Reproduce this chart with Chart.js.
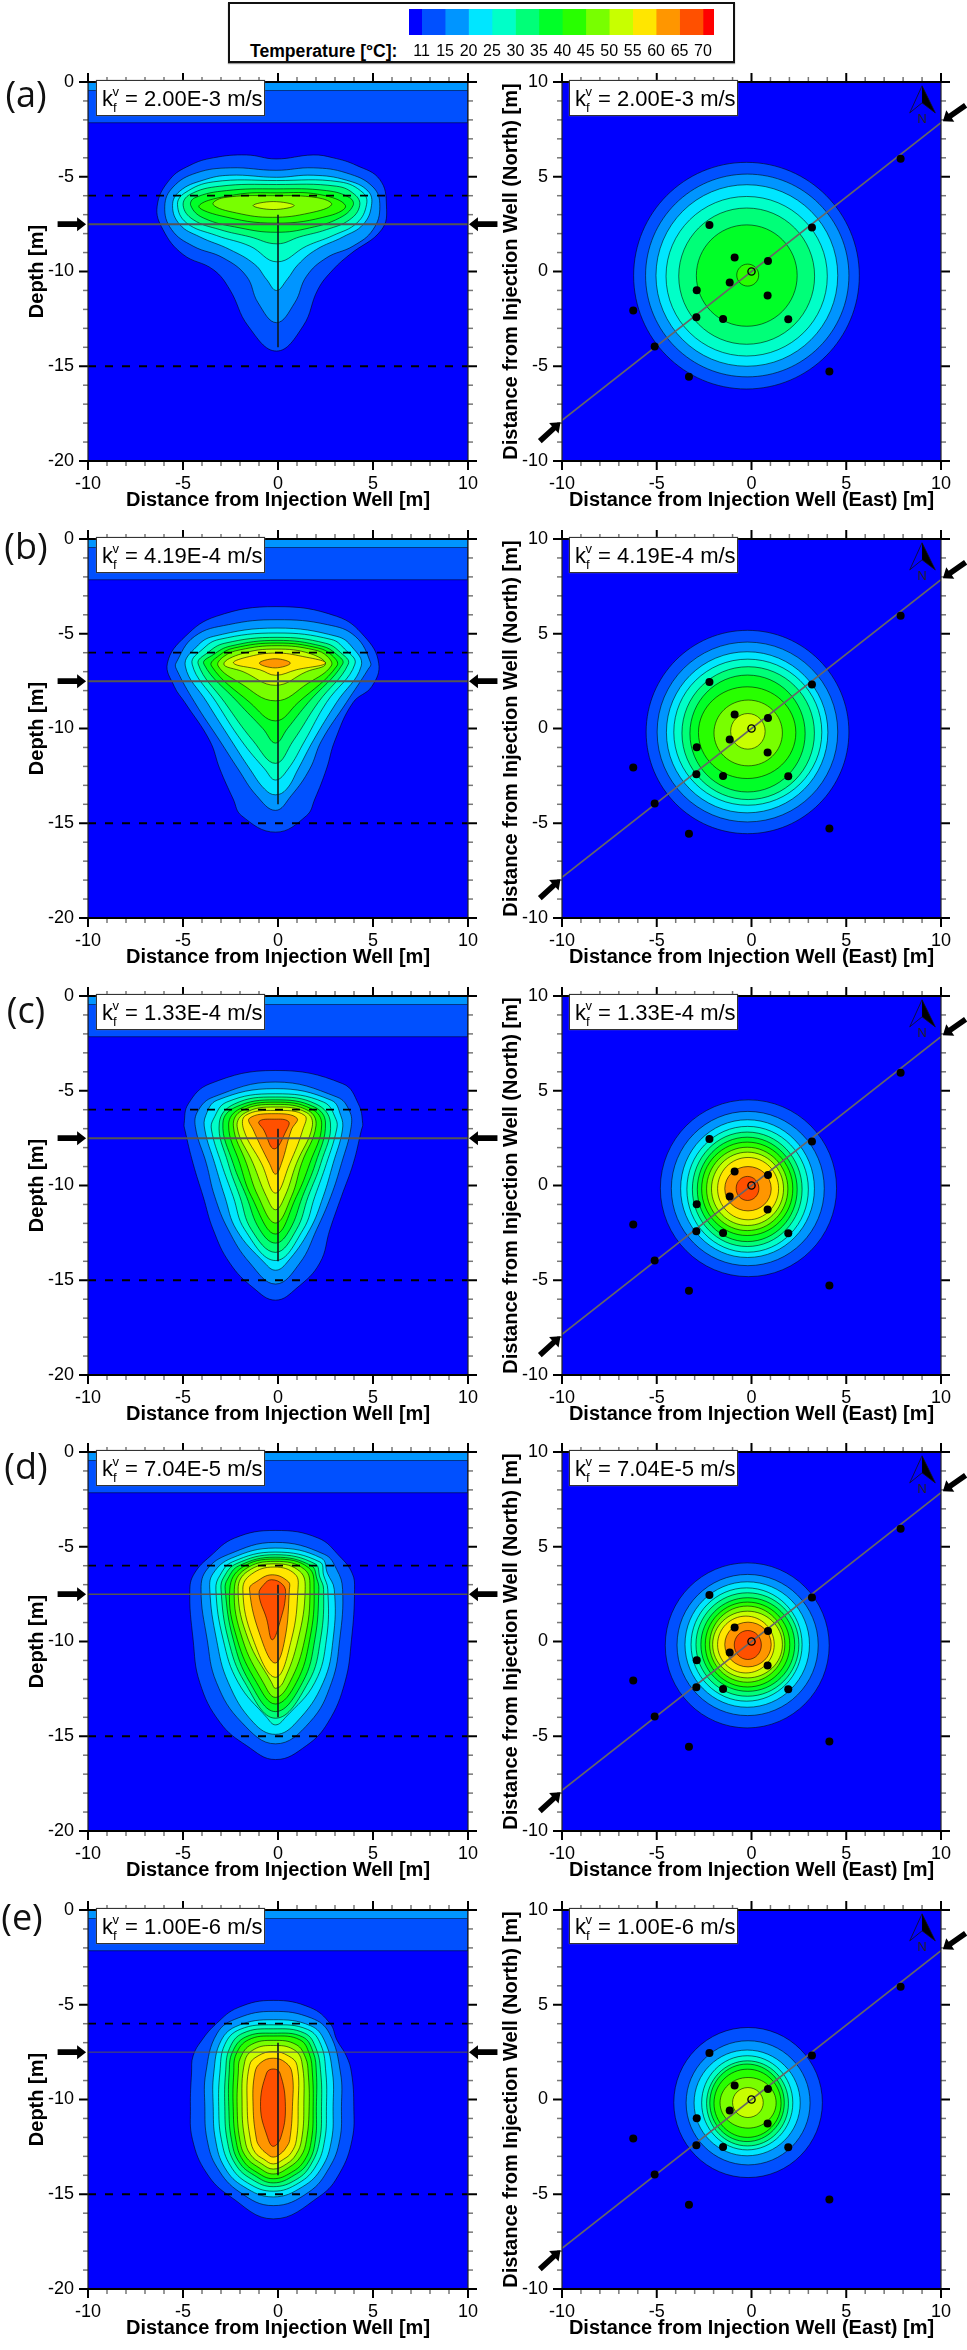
<!DOCTYPE html>
<html><head><meta charset="utf-8">
<script src="https://cdn.jsdelivr.net/npm/chart.js@4"></script>
<style>
html,body{margin:0;padding:0;background:#fff;width:967px;height:2350px;overflow:hidden;font-family:"Liberation Sans",Arial,sans-serif}
canvas{position:absolute}
.box{position:absolute;background:#fff;border:1px solid #333;box-sizing:border-box;width:169px;height:36px;color:#000;font-size:22px;box-shadow:0 0 1px #777}
.box span{position:absolute;line-height:1}
.let{position:absolute;font-family:"Open Sans",sans-serif;font-size:36px;line-height:1;color:#111;transform:translate(-50%,-50%)}
#lg{position:absolute;left:228px;top:2px;width:507px;height:61px;box-sizing:border-box;border:2px solid #111;background:#fff;box-shadow:0 1px 1px #999}
#lgt{position:absolute;left:250px;top:42px;font:bold 17.6px/18px "Liberation Sans",Arial,sans-serif;color:#000;white-space:nowrap}
</style></head><body>
<div id="lg"></div><div id="lgt">Temperature [°C]:</div>
<script>
// ---- legend ----
const legendLabels=['11','15','20','25','30','35','40','45','50','55','60','65','70'];
const legendColors=['#0000ff','#0050ff','#0095ff','#00e6ff','#00ffc8','#00ff78','#00ff28','#28ff00','#78ff00','#c8ff00','#ffe600','#ff9600','#ff5000','#ff0000'];
// contour fills, from the lowest level upward
const levelColors=legendColors.slice(1);
const panelLetters=['(a)','(b)','(c)','(d)','(e)'];
const kValues=['2.00E-3','4.19E-4','1.33E-4','7.04E-5','1.00E-6'];

// ---- x/y ----
const wellEast=[-2.22,3.19,-0.89,0.87,-1.15,-2.89,0.85,-2.91,-1.5,1.94,-6.24,-5.11,-3.3,4.11,7.87];
const wellNorth=[2.45,2.32,0.74,0.56,-0.58,-0.99,-1.27,-2.41,-2.5,-2.52,-2.06,-3.96,-5.55,-5.28,5.95];
const transectEnds=[[-10,-7.85],[10,7.85]];
const screenDepths=[-6,-15];
const injectionDepths=[-7,-14];
const sectionDepth=-7.5;
const sectionWidths=[2,2,2,1.5,1];
const bandDepths=[-2.15,-0.45];

// vertical-section contours: rows of [depth, xLeft, xRight]; first and last rows are [depth, x]
const sectionA=[
[[-4.06,-0.1],[-3.85,-1.66,1.85],[-4.0,-3.4,2.9],[-4.4,-4.64,4.13],[-5.15,-5.7,5.36],[-6.55,-6.36,5.71],[-7.8,-6.05,5.45],[-9.1,-5.0,3.78],[-9.9,-3.41,2.9],[-10.95,-2.54,2.1],[-12.88,-1.57,1.32],[-14.2,-0.08]],
[[-4.66,-0.1],[-4.53,-2.5,1.85],[-4.8,-4.3,3.6],[-5.54,-5.52,5.0],[-6.56,-5.96,5.36],[-7.79,-5.6,5.0],[-8.66,-4.47,3.95],[-9.28,-2.89,2.55],[-10.25,-1.66,1.5],[-11.65,-1.05,0.88],[-12.7,-0.08]],
[[-5.03,-0.08],[-4.92,-2.54,1.85],[-5.18,-3.94,3.6],[-5.76,-5.17,4.74],[-6.52,-5.55,4.92],[-7.52,-5.17,4.48],[-8.17,-4.12,3.43],[-8.84,-2.54,2.02],[-9.63,-1.22,1.06],[-10.42,-0.6,0.48],[-11.0,-0.08]],
[[-5.2,-0.08],[-5.27,-3.41,3.25],[-5.85,-4.9,4.48],[-6.47,-5.29,4.66],[-7.43,-4.82,4.16],[-8.1,-3.24,2.9],[-8.66,-1.48,1.5],[-9.49,-0.05]],
[[-5.41,-0.08],[-5.5,-3.06,3.08],[-5.94,-4.64,4.04],[-6.52,-4.99,4.3],[-7.26,-4.47,3.78],[-7.79,-3.06,2.55],[-8.17,-1.48,1.15],[-8.54,-0.05]],
[[-5.64,-0.1],[-5.73,-2.71,2.55],[-6.11,-4.38,3.78],[-6.52,-4.59,3.95],[-7.17,-3.94,3.25],[-7.7,-2.0,1.67],[-7.93,-0.1]],
[[-5.85,-0.1],[-5.94,-2.19,2.2],[-6.52,-4.15,3.55],[-7.05,-3.06,2.73],[-7.45,-0.1]],
[[-6.0,-0.3],[-6.11,-2.89,2.1],[-6.47,-3.41,2.82],[-6.91,-2.19,1.67],[-7.14,-0.3]],
[[-6.31,-0.25],[-6.52,-1.31,0.85],[-6.73,-0.25]]
];
const sectionB=[
[[-3.57,-0.1],[-4.08,-3.25,3.09],[-5.14,-4.88,4.55],[-6.55,-5.82,5.3],[-7.78,-5.46,4.94],[-8.63,-4.9,3.95],[-10.65,-3.59,2.99],[-12.14,-3.06,2.55],[-13.72,-2.36,1.94],[-14.6,-1.92,1.5],[-15.47,-0.13]],
[[-4.26,-0.05],[-4.52,-2.6,2.6],[-5.14,-4.39,4.07],[-6.55,-5.37,4.88],[-6.88,-5.34,4.74],[-8.63,-4.38,3.6],[-10.65,-3.06,2.29],[-12.14,-2.1,1.67],[-13.54,-1.13,0.7],[-14.32,-0.13]],
[[-4.7,-0.05],[-5.14,-3.4,3.1],[-5.7,-4.3,3.9],[-6.7,-4.88,4.38],[-8.63,-3.73,3.08],[-10.65,-2.45,1.85],[-12.14,-1.48,1.06],[-13.2,-0.7,0.45],[-13.5,-0.13]],
[[-4.96,-0.05],[-5.3,-3.1,2.8],[-5.8,-3.95,3.5],[-6.6,-4.52,4.05],[-8.63,-3.24,2.55],[-10.65,-1.92,1.41],[-12.14,-0.7,0.53],[-12.72,-0.13]],
[[-5.19,-0.05],[-5.5,-2.8,2.5],[-6.0,-3.7,3.3],[-6.6,-4.2,3.7],[-8.63,-2.8,2.11],[-10.65,-1.31,0.8],[-11.84,-0.13]],
[[-5.35,-0.05],[-5.65,-2.5,2.3],[-6.1,-3.4,3.1],[-6.6,-3.9,3.4],[-8.63,-2.1,1.59],[-10.0,-0.8,0.5],[-10.77,-0.13]],
[[-5.49,-0.05],[-5.75,-2.3,2.1],[-6.15,-3.1,2.85],[-6.7,-3.5,3.1],[-8.63,-1.48,1.06],[-9.6,-0.13]],
[[-5.63,-0.05],[-5.85,-2.0,1.9],[-6.2,-2.85,2.6],[-6.7,-3.15,2.8],[-7.6,-2.0,1.6],[-8.54,-0.13]],
[[-5.81,-0.1],[-6.05,-1.9,1.7],[-6.6,-2.85,2.5],[-7.0,-1.84,1.5],[-7.72,-0.13]],
[[-6.02,-0.1],[-6.2,-1.5,1.3],[-6.55,-2.34,2.5],[-6.9,-0.96,0.97],[-7.19,-0.13]],
[[-6.32,-0.15],[-6.55,-0.98,0.65],[-6.8,-0.15]]
];
const sectionC=[
[[-3.93,-0.15],[-4.63,-3.58,3.41],[-5.69,-4.72,4.23],[-6.74,-4.94,4.46],[-7.07,-4.9,4.39],[-8.84,-4.47,3.96],[-10.58,-3.94,3.34],[-12.33,-3.41,2.73],[-14.09,-2.54,2.2],[-15.4,-1.3,1.0],[-16.05,-0.13]],
[[-4.54,-0.15],[-5.33,-3.4,3.1],[-6.04,-4.2,3.75],[-6.9,-4.35,3.85],[-8.84,-3.77,3.34],[-10.58,-3.33,2.78],[-12.33,-2.62,2.03],[-14.09,-1.48,1.15],[-15.2,-0.13]],
[[-4.89,-0.15],[-5.5,-3.2,2.8],[-6.3,-3.8,3.3],[-7.07,-3.85,3.39],[-8.84,-3.33,2.9],[-10.58,-2.8,2.38],[-12.33,-2.19,1.67],[-14.09,-0.7,0.45],[-14.47,-0.13]],
[[-5.16,-0.15],[-5.6,-2.7,2.4],[-6.5,-3.4,3.05],[-7.07,-3.5,3.08],[-8.84,-2.98,2.55],[-10.58,-2.36,1.94],[-12.33,-1.75,1.32],[-13.96,-0.13]],
[[-5.33,-0.15],[-5.7,-2.3,2.0],[-6.7,-3.09,2.76],[-8.84,-2.62,2.25],[-10.58,-2.01,1.59],[-12.33,-1.4,0.97],[-13.53,-0.13]],
[[-5.48,-0.15],[-5.85,-2.2,1.9],[-6.7,-2.9,2.5],[-8.84,-2.36,1.97],[-10.58,-1.66,1.29],[-12.33,-0.96,0.62],[-13.04,-0.13]],
[[-5.6,-0.15],[-5.95,-2.0,1.75],[-6.8,-2.6,2.3],[-8.84,-2.01,1.67],[-10.58,-1.4,0.97],[-12.56,-0.13]],
[[-5.72,-0.15],[-6.05,-1.9,1.6],[-6.85,-2.35,2.0],[-8.84,-1.66,1.24],[-10.58,-1.04,0.71],[-11.98,-0.13]],
[[-5.86,-0.15],[-6.15,-1.7,1.5],[-6.9,-2.15,1.8],[-8.84,-1.31,0.97],[-10.58,-0.61,0.36],[-11.28,-0.13]],
[[-6.04,-0.15],[-6.3,-1.7,1.4],[-7.07,-1.8,1.3],[-8.84,-0.87,0.62],[-10.4,-0.13]],
[[-6.21,-0.15],[-6.45,-1.5,1.0],[-7.07,-1.3,0.7],[-8.84,-0.45,0.18],[-9.4,-0.13]],
[[-6.5,-0.2],[-6.62,-1.0,0.55],[-7.07,-0.75,0.45],[-8.07,-0.2]]
];
const sectionD=[
[[-4.14,-0.15],[-4.54,-2.28,2.11],[-5.51,-3.58,3.25],[-6.39,-4.39,3.9],[-7.25,-4.64,4.03],[-9.88,-4.47,3.87],[-12.16,-4.12,3.52],[-14.26,-3.06,2.64],[-15.49,-1.66,1.5],[-16.23,-0.13]],
[[-4.77,-0.15],[-5.4,-2.6,2.44],[-6.2,-3.74,3.09],[-7.25,-4.05,3.4],[-9.88,-3.73,3.25],[-12.16,-3.24,2.82],[-14.26,-1.92,1.67],[-15.4,-0.13]],
[[-5.07,-0.15],[-5.6,-2.44,2.28],[-6.4,-3.41,2.6],[-7.25,-3.59,2.96],[-9.88,-3.24,2.9],[-12.16,-2.62,2.38],[-14.26,-1.31,0.97],[-14.9,-0.13]],
[[-5.28,-0.15],[-5.8,-2.4,2.2],[-6.5,-3.05,2.4],[-7.25,-3.27,2.62],[-9.88,-2.89,2.55],[-12.16,-2.1,1.94],[-14.0,-0.6,0.4],[-14.4,-0.13]],
[[-5.42,-0.15],[-5.9,-2.2,1.95],[-6.6,-2.85,2.2],[-7.25,-3.0,2.4],[-9.88,-2.62,2.24],[-12.16,-1.75,1.59],[-14.05,-0.13]],
[[-5.55,-0.15],[-6.0,-2.05,1.75],[-6.7,-2.65,2.05],[-7.25,-2.78,2.15],[-9.88,-2.36,1.94],[-12.16,-1.48,1.29],[-13.7,-0.13]],
[[-5.65,-0.15],[-6.1,-1.9,1.6],[-7.25,-2.54,1.9],[-9.88,-2.15,1.67],[-12.16,-1.13,0.97],[-13.3,-0.13]],
[[-5.77,-0.15],[-6.2,-1.75,1.4],[-7.25,-2.3,1.68],[-9.88,-1.87,1.41],[-12.16,-0.78,0.62],[-12.95,-0.13]],
[[-5.9,-0.15],[-6.3,-1.6,1.15],[-7.25,-2.1,1.43],[-9.88,-1.57,1.06],[-12.16,-0.34,0.27],[-12.47,-0.13]],
[[-6.07,-0.2],[-6.45,-1.4,0.9],[-7.25,-1.85,1.05],[-9.88,-1.31,0.71],[-11.89,-0.13]],
[[-6.48,-0.3],[-6.85,-1.15,0.55],[-7.25,-1.5,0.6],[-9.88,-0.87,0.36],[-11.14,-0.15]],
[[-6.74,-0.35],[-7.0,-0.75,0.25],[-7.5,-1.0,0.4],[-8.8,-0.6,0.15],[-9.91,-0.3]]
];
const sectionE=[
[[-4.77,-0.25],[-5.15,-2.1,1.7],[-6.0,-3.25,2.75],[-6.86,-4.0,3.1],[-7.7,-4.47,3.6],[-8.6,-4.55,3.87],[-10.37,-4.61,3.99],[-12.12,-4.5,3.9],[-13.88,-3.76,3.25],[-15.1,-2.54,2.2],[-16.3,-0.25]],
[[-5.35,-0.25],[-5.7,-2.1,1.75],[-6.5,-3.2,2.7],[-8.6,-3.8,3.29],[-10.37,-3.85,3.34],[-12.12,-3.73,3.25],[-13.6,-3.2,2.7],[-14.9,-2.0,1.6],[-15.6,-0.25]],
[[-5.79,-0.25],[-6.1,-2.1,1.7],[-6.9,-3.0,2.45],[-8.6,-3.38,2.87],[-10.37,-3.41,2.9],[-12.12,-3.29,2.82],[-13.6,-2.8,2.3],[-14.6,-1.8,1.3],[-15.14,-0.25]],
[[-6.06,-0.25],[-6.3,-2.0,1.55],[-7.1,-2.8,2.25],[-8.6,-3.06,2.52],[-10.37,-3.12,2.55],[-12.12,-2.98,2.46],[-13.5,-2.5,2.0],[-14.4,-1.6,1.1],[-14.84,-0.25]],
[[-6.27,-0.25],[-6.5,-1.85,1.4],[-7.3,-2.55,2.0],[-8.6,-2.76,2.25],[-10.37,-2.8,2.29],[-12.12,-2.68,2.2],[-13.4,-2.25,1.75],[-14.2,-1.4,1.0],[-14.6,-0.25]],
[[-6.5,-0.25],[-6.7,-1.7,1.3],[-7.5,-2.4,1.85],[-8.6,-2.57,2.02],[-10.37,-2.59,2.02],[-12.12,-2.45,1.97],[-13.3,-2.05,1.6],[-14.0,-1.25,0.85],[-14.4,-0.25]],
[[-6.65,-0.25],[-6.85,-1.55,1.15],[-7.6,-2.2,1.65],[-8.6,-2.33,1.81],[-10.37,-2.36,1.85],[-12.12,-2.22,1.76],[-13.2,-1.85,1.4],[-13.85,-1.1,0.7],[-14.18,-0.25]],
[[-6.88,-0.25],[-7.1,-1.4,0.95],[-7.8,-1.98,1.45],[-8.6,-2.09,1.59],[-10.37,-2.15,1.64],[-12.12,-2.01,1.5],[-13.0,-1.7,1.2],[-13.6,-1.0,0.55],[-13.93,-0.25]],
[[-7.15,-0.25],[-7.35,-1.25,0.8],[-8.0,-1.75,1.25],[-10.37,-1.89,1.36],[-12.12,-1.74,1.24],[-12.9,-1.45,0.95],[-13.4,-0.85,0.45],[-13.67,-0.25]],
[[-7.47,-0.25],[-7.7,-1.05,0.55],[-8.2,-1.5,1.0],[-10.37,-1.62,1.06],[-12.12,-1.45,0.97],[-12.8,-1.2,0.7],[-13.15,-0.75,0.3],[-13.4,-0.25]],
[[-7.82,-0.25],[-8.05,-0.9,0.4],[-8.6,-1.22,0.74],[-10.37,-1.31,0.76],[-12.12,-1.13,0.62],[-12.5,-0.95,0.45],[-12.85,-0.6,0.15],[-13.04,-0.25]],
[[-8.39,-0.25],[-8.6,-0.6,0.1],[-10.37,-0.92,0.39],[-12.0,-0.55,0.15],[-12.47,-0.25]]
];
// plan-view contours: [west, east, north, south] extents
const planA=[[-6.22,5.69,5.76,-6.2],[-5.59,5.14,5.14,-5.56],[-5.04,4.55,4.58,-5.0],[-4.51,4.0,3.96,-4.46],[-3.84,3.33,3.35,-3.84],[-2.91,2.41,2.46,-2.89],[-0.78,0.38,0.39,-0.77]];
const planB=[[-5.56,5.14,5.18,-5.55],[-4.98,4.55,4.56,-4.93],[-4.49,4.03,4.05,-4.45],[-4.1,3.71,3.66,-4.05],[-3.67,3.32,3.26,-3.75],[-3.25,2.83,2.82,-3.35],[-2.8,2.34,2.2,-2.64],[-1.98,1.63,1.5,-1.97],[-1.1,0.72,0.79,-1.09]];
const planC=[[-4.81,4.49,4.52,-4.81],[-4.23,3.84,3.91,-4.23],[-3.74,3.32,3.47,-3.8],[-3.41,3.0,3.12,-3.52],[-3.12,2.67,2.82,-3.22],[-2.86,2.41,2.55,-2.96],[-2.63,2.18,2.29,-2.64],[-2.37,1.92,2.02,-2.38],[-2.11,1.69,1.76,-2.11],[-1.79,1.43,1.48,-1.81],[-1.41,1.04,1.0,-1.34],[-0.81,0.39,0.48,-0.79]];
const planD=[[-4.55,4.1,4.15,-4.56],[-3.93,3.52,3.54,-3.91],[-3.51,3.06,3.15,-3.47],[-3.19,2.67,2.83,-3.15],[-2.93,2.5,2.57,-2.89],[-2.67,2.28,2.31,-2.63],[-2.44,2.02,2.08,-2.4],[-2.21,1.76,1.87,-2.15],[-2.05,1.63,1.6,-1.92],[-1.79,1.2,1.34,-1.66],[-1.41,1.04,1.02,-1.34],[-0.91,0.52,0.58,-0.95]];
const planE=[[-4.1,3.74,3.8,-4.12],[-3.45,3.09,3.1,-3.45],[-3.03,2.57,2.61,-2.97],[-2.63,2.18,2.31,-2.66],[-2.37,1.95,2.04,-2.45],[-2.2,1.73,1.87,-2.22],[-1.98,1.56,1.6,-2.0],[-1.66,1.3,1.16,-1.51],[-1.0,0.62,0.63,-0.95]];
const sections=[sectionA,sectionB,sectionC,sectionD,sectionE];
const plans=[planA,planB,planC,planD,planE];

// ---- page layout ----
const FONT='"Liberation Sans",Arial,sans-serif';
const panelTops=[82,539,996,1452,1910];
const letterCentres=[[26,94],[26,546],[26,1010],[26,1466],[22,1917]];
const PAD_TOP=20,PLOT_H=379,AXIS_H=53;

// closed rings carry one point of overlap at each end so the spline tangents wrap round
function sectionRing(rows){
  const pts=[];
  rows.forEach(r=>pts.push({x:r.length===2?r[1]:r[2],y:r[0]}));
  for(let i=rows.length-2;i>0;i--)pts.push({x:rows[i][1],y:rows[i][0]});
  return [pts[pts.length-1],...pts,pts[0],pts[1]];
}
function planRing(e){
  const cx=(e[0]+e[1])/2,cy=(e[2]+e[3])/2;
  const p=[{x:cx,y:e[2]},{x:e[1],y:cy},{x:cx,y:e[3]},{x:e[0],y:cy}];
  return [p[3],...p,p[0],p[1]];
}
const polyFill={id:'polyFill',beforeDatasetDraw(chart,args){
  const ds=chart.data.datasets[args.index];
  if(!ds.polyColor)return;
  const ctx=chart.ctx,a=chart.chartArea,line=chart.getDatasetMeta(args.index).dataset;
  line.updateControlPoints(a,'x');
  ctx.save();
  ctx.beginPath();ctx.rect(a.left,a.top,a.right-a.left,a.bottom-a.top);ctx.clip();
  ctx.beginPath();
  if(ds.ring)line.path(ctx,1,ds.data.length-2);else line.path(ctx);
  ctx.closePath();
  ctx.fillStyle=ds.polyColor;ctx.fill();
  if(ds.ringWidth){ctx.strokeStyle=ds.ringColor;ctx.lineWidth=ds.ringWidth;ctx.stroke();}
  ctx.restore();
}};
const plotBack={id:'plotBack',beforeDraw(chart){
  const a=chart.chartArea,c=chart.ctx;
  c.save();c.fillStyle=legendColors[0];c.fillRect(a.left,a.top,a.right-a.left,a.bottom-a.top);c.restore();
}};
function arrow(c,xs,ys,tail,tip){
  const x0=xs.getPixelForValue(tail[0]),y0=ys.getPixelForValue(tail[1]),x1=xs.getPixelForValue(tip[0]),y1=ys.getPixelForValue(tip[1]);
  const L=Math.hypot(x1-x0,y1-y0),ux=(x1-x0)/L,uy=(y1-y0)/L,nx=-uy,ny=ux,hl=9,hw=7,sw=2.8;
  const P=(a,b)=>[x0+ux*a+nx*b,y0+uy*a+ny*b];
  const path=[P(0,sw),P(L-hl,sw),P(L-hl,hw),P(L,0),P(L-hl,-hw),P(L-hl,-sw),P(0,-sw)];
  c.beginPath();path.forEach((p,i)=>i?c.lineTo(p[0],p[1]):c.moveTo(p[0],p[1]));c.closePath();c.fillStyle='#000';c.fill();
}
const frame={id:'frame',afterDraw(chart,args,o){
  const c=chart.ctx,a=chart.chartArea,xs=chart.scales.x,ys=chart.scales.y;
  c.save();
  const tick=(x0,y0,x1,y1,maj)=>{c.strokeStyle=maj?'#000':'#777';c.lineWidth=maj?2:1.5;c.beginPath();c.moveTo(x0,y0);c.lineTo(x1,y1);c.stroke();};
  xs.ticks.forEach(t=>{const p=xs.getPixelForValue(t.value),maj=t.value%5===0,l=maj?9:5;
    tick(p,a.top,p,a.top-l,maj);tick(p,a.bottom,p,a.bottom+l,maj);});
  ys.ticks.forEach(t=>{const p=ys.getPixelForValue(t.value),maj=t.value%5===0,l=maj?9:5;
    tick(a.left,p,a.left-l,p,maj);tick(a.right,p,a.right+l,p,maj);});
  c.strokeStyle='#222';c.lineWidth=1.2;c.strokeRect(a.left,a.top,a.right-a.left,a.bottom-a.top);
  c.strokeStyle='#000';c.lineWidth=2.2;
  c.beginPath();c.moveTo(a.left-9,a.top);c.lineTo(a.right+9,a.top);c.moveTo(a.left-9,a.bottom);c.lineTo(a.right+9,a.bottom);c.stroke();
  (o.arrows||[]).forEach(r=>arrow(c,xs,ys,r[0],r[1]));
  if(o.north){
    c.fillStyle='#222';c.font='13px '+FONT;c.textAlign='center';c.textBaseline='middle';
    c.fillText('N',xs.getPixelForValue(o.north[0]),ys.getPixelForValue(o.north[1]));
  }
  c.restore();
}};
function polyDatasets(rings,startOrder,tension){
  return rings.map((pts,i)=>({data:pts,showLine:true,tension,pointRadius:0,borderWidth:0,ring:true,ringWidth:0.9,ringColor:'rgba(0,0,0,0.62)',polyColor:levelColors[i],order:startOrder-i}));
}
function lineDs(pts,color,width,order,dash){
  return {data:pts,showLine:true,tension:0,pointRadius:0,borderWidth:width,borderColor:color,borderDash:dash||[],order};
}
function rectDs(yB,color,order){
  return {data:[{x:-10,y:0},{x:10,y:0},{x:10,y:yB},{x:-10,y:yB},{x:-10,y:0}],showLine:true,tension:0,pointRadius:0,borderWidth:0.9,borderColor:'rgba(0,0,30,0.6)',polyColor:color,order};
}
function axisOpts(min,max,title,isX,pad){
  return {type:'linear',min,max,offset:false,
    afterBuildTicks(s){s.ticks=[];for(let v=min;v<=max;v++)s.ticks.push({value:v});},
    ticks:{stepSize:1,autoSkip:false,maxRotation:0,minRotation:0,color:'#000',font:{family:FONT,size:18},padding:isX?7:9,
      callback:v=>v%5===0?String(v):''},
    grid:{drawOnChartArea:false,drawTicks:true,tickLength:5,tickColor:'rgba(0,0,0,0)'},
    border:{display:false},
    title:{display:true,text:title,color:'#000',font:{family:FONT,weight:'bold',size:isX?20:20,lineHeight:1},padding:isX?{top:0,bottom:4}:{top:pad,bottom:0}}};
}
function addCanvas(left,top,w,h){
  const cv=document.createElement('canvas');cv.width=w;cv.height=h;cv.style.left=left+'px';cv.style.top=top+'px';cv.style.width=w+'px';cv.style.height=h+'px';
  document.body.appendChild(cv);return cv;
}
function panelChart(left,top,w,rightPad,yW,datasets,xOpt,yOpt,plugOpts){
  const cv=addCanvas(left,top-PAD_TOP,w,PAD_TOP+PLOT_H+AXIS_H);
  xOpt.afterFit=s=>{s.height=AXIS_H;};
  yOpt.afterFit=s=>{s.width=yW;};
  return new Chart(cv,{type:'scatter',data:{datasets},plugins:[plotBack,polyFill,frame],
    options:{responsive:false,animation:false,devicePixelRatio:1,
      layout:{padding:{left:0,right:rightPad,top:PAD_TOP,bottom:0}},
      scales:{x:xOpt,y:yOpt},
      plugins:{legend:{display:false},tooltip:{enabled:false},title:{display:false},frame:plugOpts}}});
}
function kBox(left,top,val){
  const b=document.createElement('div');b.className='box';b.style.left=left+'px';b.style.top=top+'px';
  b.innerHTML='<span style="left:5px;top:7px">k</span><span style="left:15.5px;top:4px;font-size:13px">v</span><span style="left:16px;top:20px;font-size:13px">f</span><span style="left:28px;top:7px;white-space:nowrap">= '+val+' m/s</span>';
  document.body.appendChild(b);
}

sections.forEach((sec,p)=>{
  const top=panelTops[p];
  const ds=[
    lineDs([{x:-10,y:sectionDepth},{x:10,y:sectionDepth}],'#555',sectionWidths[p],40),
    lineDs([{x:0,y:injectionDepths[0]},{x:0,y:injectionDepths[1]}],'#0a1a20',1.6,41),
    lineDs([{x:-10,y:screenDepths[0]},{x:10,y:screenDepths[0]}],'#000',1.8,42,[8,9]),
    lineDs([{x:-10,y:screenDepths[1]},{x:10,y:screenDepths[1]}],'#000',1.8,43,[8,9]),
    ...polyDatasets(sec.map(sectionRing),80,0.42),
    rectDs(bandDepths[1],levelColors[1],90),
    rectDs(bandDepths[0],levelColors[0],91)
  ];
  panelChart(0,top,500,32,88,ds,
    axisOpts(-10,10,'Distance from Injection Well [m]',true),
    axisOpts(-20,0,'Depth [m]',false,27),
    {arrows:[[[-11.6,sectionDepth],[-10.1,sectionDepth]],[[11.55,sectionDepth],[10.05,sectionDepth]]]});

  const dsR=[
    {data:[{x:0,y:0}],pointRadius:3.6,pointBackgroundColor:'rgba(0,0,0,0)',pointBorderColor:'#000',pointBorderWidth:1.4,order:30},
    {data:wellEast.map((x,i)=>({x,y:wellNorth[i]})),pointRadius:4,pointBackgroundColor:'#000',pointBorderWidth:0,order:31},
    lineDs(transectEnds.map(q=>({x:q[0],y:q[1]})),'#666',1.6,40),
    {data:[{x:9,y:9.8},{x:8.35,y:8.37},{x:9,y:8.9},{x:9.7,y:8.37},{x:9,y:9.8}],showLine:true,tension:0,pointRadius:0,borderWidth:0.8,borderColor:'#111',order:42},
    {data:[{x:9,y:9.8},{x:9,y:8.9},{x:9.7,y:8.37},{x:9,y:9.8}],showLine:true,tension:0,pointRadius:0,borderWidth:0,polyColor:'#000',order:43},
    ...polyDatasets(plans[p].map(planRing),80,0.552)
  ];
  panelChart(500,top,467,26,62,dsR,
    axisOpts(-10,10,'Distance from Injection Well (East) [m]',true),
    axisOpts(-10,10,'Distance from Injection Well (North) [m]',false,1),
    {north:[9,8.05],arrows:[[[11.3,8.77],[10.1,7.93]],[[-11.17,-8.95],[-10.08,-7.95]]]});

  kBox(96,top-2.5,kValues[p]);
  kBox(569,top-2.5,kValues[p]);
  const l=document.createElement('div');l.className='let';l.textContent=panelLetters[p];
  l.style.left=letterCentres[p][0]+'px';l.style.top=letterCentres[p][1]+'px';document.body.appendChild(l);
});

// ---- colour key ----
(function(){
  const cv=addCanvas(390,5,350,58);
  const edges=[-0.54,...legendLabels.map((_,i)=>i),12.47];
  new Chart(cv,{type:'bar',
    data:{labels:['T'],datasets:legendColors.map((col,i)=>({data:[[edges[i],edges[i+1]]],backgroundColor:col,borderWidth:0,grouped:false,barPercentage:1,categoryPercentage:1}))},
    options:{indexAxis:'y',responsive:false,animation:false,devicePixelRatio:1,
      layout:{padding:{left:19,right:26,top:4,bottom:0}},
      plugins:{legend:{display:false},tooltip:{enabled:false}},
      scales:{
        y:{display:false,grid:{display:false}},
        x:{type:'linear',min:-0.54,max:12.47,
          afterBuildTicks(s){s.ticks=legendLabels.map((_,i)=>({value:i}));},
          afterFit(s){s.height=28;},
          grid:{display:false,drawTicks:false},border:{display:false},
          ticks:{autoSkip:false,maxRotation:0,color:'#000',padding:7,font:{family:FONT,size:16},callback:v=>legendLabels[v]}}
      }}});
})();
</script></body></html>
